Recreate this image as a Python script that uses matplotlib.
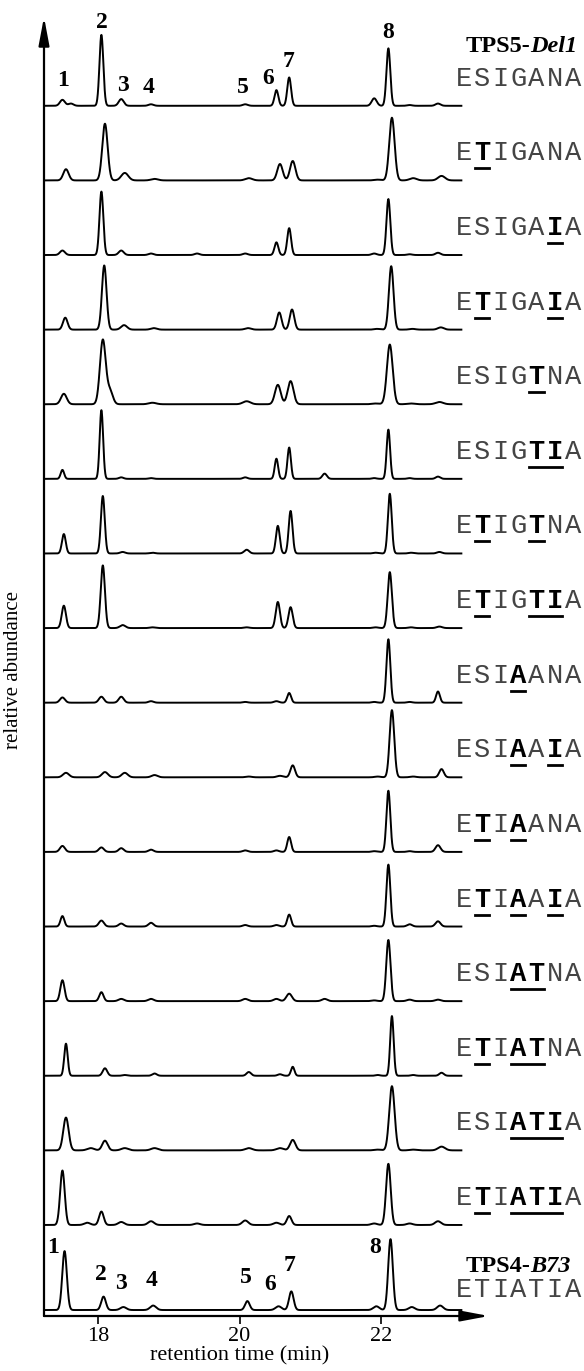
import numpy as np
import matplotlib.pyplot as plt
from matplotlib.lines import Line2D

# retention times (min) of the peaks
rt = [17.50, 17.62, 17.85, 18.05, 18.15, 18.33, 18.75, 19.40,
      20.08, 20.52, 20.70, 21.20, 21.90, 22.10, 22.40, 22.80]

# right-hand labels, top to bottom (last one is TPS4-B73)
sequences = ["ESIGANA", "ETIGANA", "ESIGAIA", "ETIGAIA", "ESIGTNA", "ESIGTIA",
             "ETIGTNA", "ETIGTIA", "ESIAANA", "ESIAAIA", "ETIAANA", "ETIAAIA",
             "ESIATNA", "ETIATNA", "ESIATIA", "ETIATIA", "ETIATIA"]
wild_type = "ESIGANA"

# peak heights per trace (in units of trace spacing), columns follow rt
heights = [
    [0.08, 0.03, 0, 0.95, 0, 0.09, 0.02, 0, 0.02, 0.21, 0.38, 0, 0.10, 0.77, 0.01, 0.03],
    [0.15, 0, 0, 0.76, 0, 0.10, 0.02, 0, 0.03, 0.22, 0.26, 0, 0.01, 0.84, 0.03, 0.06],
    [0.06, 0, 0, 0.85, 0, 0.06, 0.02, 0.02, 0.02, 0.17, 0.36, 0, 0.02, 0.75, 0.01, 0.03],
    [0.16, 0, 0, 0.86, 0, 0.06, 0.02, 0, 0.02, 0.23, 0.27, 0, 0.01, 0.85, 0.01, 0.03],
    [0.14, 0, 0, 0.86, 0.18, 0, 0.02, 0, 0.04, 0.26, 0.31, 0, 0.01, 0.80, 0.01, 0.03],
    [0.12, 0, 0, 0.92, 0, 0.02, 0.01, 0, 0.02, 0.27, 0.42, 0.07, 0.01, 0.66, 0.01, 0.03],
    [0.26, 0, 0, 0.77, 0, 0.02, 0.01, 0, 0.05, 0.37, 0.57, 0, 0.01, 0.80, 0.01, 0.02],
    [0.30, 0, 0, 0.84, 0, 0.04, 0.01, 0, 0.01, 0.35, 0.28, 0, 0.01, 0.75, 0.01, 0.02],
    [0.07, 0, 0, 0.08, 0, 0.08, 0.02, 0, 0.01, 0.02, 0.13, 0, 0.01, 0.85, 0.01, 0.15],
    [0.06, 0, 0, 0.07, 0, 0.06, 0.03, 0, 0.01, 0.02, 0.16, 0, 0.01, 0.90, 0.01, 0.11],
    [0.08, 0, 0, 0.06, 0, 0.05, 0.03, 0, 0.02, 0.02, 0.20, 0, 0.01, 0.82, 0.01, 0.09],
    [0.14, 0, 0, 0.08, 0, 0.04, 0.05, 0, 0.02, 0.02, 0.16, 0, 0.01, 0.83, 0.03, 0.07],
    [0.28, 0, 0, 0.12, 0, 0.03, 0.03, 0, 0.03, 0.03, 0.10, 0.03, 0.01, 0.82, 0.02, 0.02],
    [0.43, 0, 0, 0.10, 0, 0.01, 0.03, 0, 0.05, 0.02, 0.12, 0, 0.01, 0.80, 0.01, 0.04],
    [0.44, 0, 0.03, 0.13, 0, 0.03, 0.03, 0, 0.03, 0.03, 0.14, 0, 0.01, 0.86, 0.01, 0.05],
    [0.73, 0, 0.03, 0.18, 0, 0.04, 0.05, 0.02, 0.06, 0.03, 0.12, 0, 0.02, 0.82, 0.02, 0.05],
    [0.79, 0, 0, 0.18, 0, 0.04, 0.06, 0, 0.12, 0.05, 0.25, 0, 0.05, 0.95, 0.04, 0.06],
]
# small retention shifts (min) and peak width factors per trace
shift = [0, 0.05, 0, 0.04, 0.02, 0, 0.02, 0.02, 0, 0.05, 0, 0, 0, 0.05, 0.05, 0, 0.03]
width = [1.0, 1.4, 1.0, 1.2, 1.5, 0.9, 1.0, 1.1, 1.0, 1.2, 1.0, 1.0, 1.1, 0.9, 1.4, 1.2, 1.2]

# peak number labels on top and bottom traces
peak_num = ["1", "2", "3", "4", "5", "6", "7", "8"]
top_num_x = [17.51, 18.06, 18.36, 18.72, 20.05, 20.40, 20.69, 22.10]
top_num_y = [0.34, 1.12, 0.27, 0.24, 0.25, 0.36, 0.60, 0.98]
bot_num_x = [17.37, 18.04, 18.33, 18.76, 20.09, 20.43, 20.70, 21.92]
bot_num_y = [0.84, 0.47, 0.36, 0.40, 0.43, 0.34, 0.60, 0.84]

W, H = 584, 1371
fig = plt.figure(figsize=(W / 100, H / 100), dpi=100)
ax = fig.add_axes([44 / W, (H - 1316) / H, (489 - 44) / W, (1316 - 17) / H])
ax.set_xlim(17.24, 23.52)
ax.set_ylim(-0.08, 17.33)

n = len(sequences)
offsets = [1.14 + (n - 2 - k) for k in range(n - 1)] + [0.0]

t = np.linspace(17.25, 23.13, 3000)
sigma = 0.027
for k in range(n):
    y = np.zeros_like(t)
    for r, h in zip(rt, heights[k]):
        if h > 0:
            s = sigma * width[k] * (1.0 if h > 0.1 else 1.3)
            y += h * np.exp(-0.5 * ((t - r - shift[k]) / s) ** 2)
    ax.plot(t, y + offsets[k], color="black", lw=1.4)

for lab, x, y in zip(peak_num, top_num_x, top_num_y):
    ax.text(x, offsets[0] + y, lab, ha="center", va="center", fontsize=17,
            fontweight="bold", family="Liberation Serif")
for lab, x, y in zip(peak_num, bot_num_x, bot_num_y):
    ax.text(x, offsets[-1] + y, lab, ha="center", va="center", fontsize=17,
            fontweight="bold", family="Liberation Serif")

# axes as arrows
for s in ax.spines.values():
    s.set_visible(False)
arrow = dict(arrowstyle="-|>,head_length=1.7,head_width=0.32", color="black",
             lw=1.6, shrinkA=0, shrinkB=0, mutation_scale=10)
ax.annotate("", xy=(1, 0), xytext=(0, 0), xycoords="axes fraction", arrowprops=arrow)
ax.annotate("", xy=(0, 1), xytext=(0, 0), xycoords="axes fraction", arrowprops=arrow)

ax.set_yticks([])
ax.set_xticks([18, 20, 22])
ax.tick_params(axis="x", direction="out", length=6, width=1.2, labelsize=16, pad=2)
for lbl in ax.get_xticklabels():
    lbl.set_family("Liberation Serif")
ax.text(20.0, -0.62, "retention time (min)", ha="center", va="center",
        fontsize=16, family="Liberation Serif")
fig.text(14 / W, 1 - 670 / H, "relative abundance", rotation=90, ha="center",
         va="center", fontsize=15, family="Liberation Serif")

# sequence labels, mutated residues bold and underlined
fs = 19.5
adv = 18.1
x0 = 456
for k, seq in enumerate(sequences):
    base_px = ax.transData.transform((20, offsets[k]))[1]
    ty = base_px + (13 if k == n - 1 else 20)
    bold = [] if k == n - 1 else [i for i in range(7) if seq[i] != wild_type[i]]
    for i, ch in enumerate(seq):
        fig.text((x0 + i * adv) / W, ty / H, ch, family="Liberation Mono", fontsize=fs,
                 fontweight="bold" if i in bold else "normal",
                 color="black" if i in bold else "#444444", ha="left", va="baseline")
    groups = []
    for i in bold:
        if groups and groups[-1][-1] == i - 1:
            groups[-1].append(i)
        else:
            groups.append([i])
    for g in groups:
        xa = x0 + g[0] * adv + 1
        xb = x0 + (g[-1] + 1) * adv - 3
        fig.add_artist(Line2D([xa / W, xb / W], [(ty - 8) / H] * 2, color="black",
                              lw=2.0, transform=fig.transFigure))

# strain headers
top_px = ax.transData.transform((20, offsets[0]))[1]
bot_px = ax.transData.transform((20, offsets[-1]))[1]
for ty, a, b in [(top_px + 54, "TPS5-", "Del1"), (bot_px + 38, "TPS4-", "B73")]:
    fig.text(530 / W, ty / H, a, ha="right", va="baseline", fontsize=17.5,
             fontweight="bold", family="Liberation Serif")
    fig.text(530 / W, ty / H, b, ha="left", va="baseline", fontsize=17.5,
             fontweight="bold", style="italic", family="Liberation Serif")

fig.savefig("out.png", dpi=100)
